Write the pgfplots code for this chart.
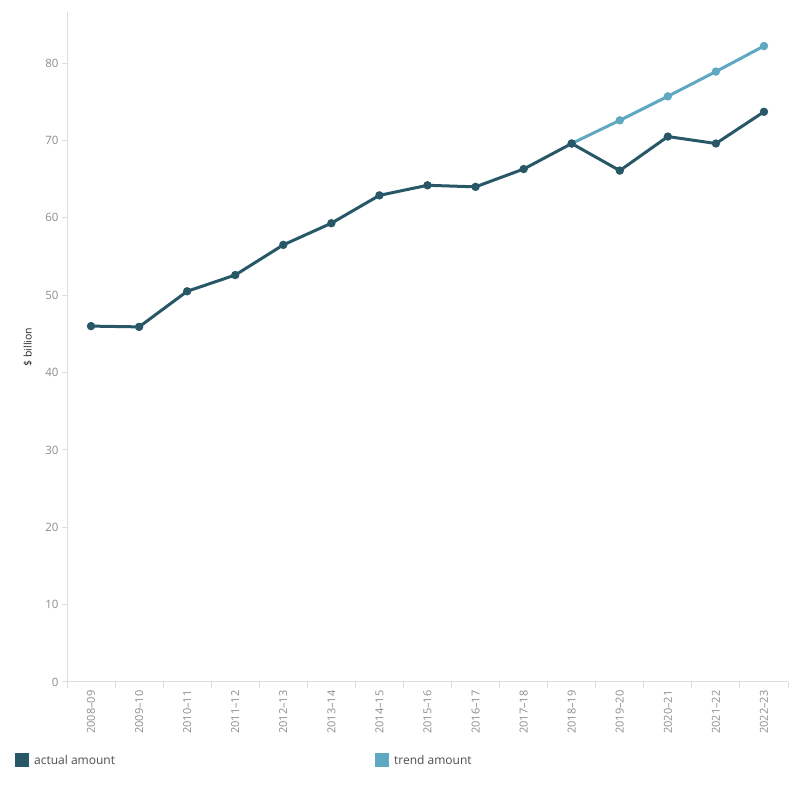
\documentclass[border=0pt]{standalone}
\usepackage{fontspec}
\setmainfont{Open Sans}
\usepackage{pgfplots}
\pgfplotsset{compat=1.18}
\definecolor{actual}{HTML}{285867}
\definecolor{trend}{HTML}{5FA8C1}
\definecolor{tickgrey}{HTML}{8C8C8C}
\definecolor{axgrey}{HTML}{DDDDDD}
\begin{document}
\begin{tikzpicture}[x=1pt,y=1pt]
\path[use as bounding box] (0,0) rectangle (800,800);
\begin{axis}[
  at={(67pt,118pt)}, anchor=south west,
  scale only axis, width=721pt, height=670pt,
  xmin=-0.5, xmax=14.5, ymin=0, ymax=86.6,
  axis x line*=bottom, axis y line*=left,
  axis line style={draw=axgrey, line width=1pt},
  xtick={0,...,14},
  xticklabels={2008--09,2009--10,2010--11,2011--12,2012--13,2013--14,2014--15,2015--16,2016--17,2017--18,2018--19,2019--20,2020--21,2021--22,2022--23},
  minor xtick={-0.5,0.5,...,14.5},
  major x tick style={draw=none},
  minor x tick style={draw=axgrey, line width=1pt},
  minor tick length=6pt,
  ytick={0,10,...,80},
  major y tick style={draw=axgrey, line width=1pt},
  major tick length=5pt,
  tick align=outside,
  xticklabel style={rotate=90, anchor=east, font=\fontsize{11}{12}\selectfont, text=tickgrey},
  yticklabel style={font=\fontsize{11.5}{12}\selectfont, text=tickgrey},
  /pgf/number format/assume math mode=true,
  ylabel={\$ billion},
  ylabel style={at={(axis description cs:0,0.5)}, anchor=center, rotate=0, yshift=39pt, font=\fontsize{10.5}{12}\selectfont, text=black!85},
  clip=false,
]
\addplot[trend, line width=3pt, mark=*, mark size=2.6pt, mark options={fill=trend, draw=none}] coordinates {
 (10,69.6) (11,72.6) (12,75.7) (13,78.9) (14,82.2)};
\addplot[actual, line width=3pt, mark=*, mark size=2.6pt, mark options={fill=actual, draw=none}] coordinates {
 (0,46.0) (1,45.9) (2,50.5) (3,52.6) (4,56.5) (5,59.3) (6,62.9) (7,64.2) (8,64.0) (9,66.3) (10,69.6) (11,66.1) (12,70.5) (13,69.6) (14,73.7)};
\end{axis}
\fill[actual] (15,33) rectangle (29,47);
\node[anchor=west, font=\fontsize{12}{14}\selectfont, text=black!70, inner sep=0pt] at (34,40) {actual amount};
\fill[trend] (375,33) rectangle (389,47);
\node[anchor=west, font=\fontsize{12}{14}\selectfont, text=black!70, inner sep=0pt] at (394,40) {trend amount};
\end{tikzpicture}
\end{document}
